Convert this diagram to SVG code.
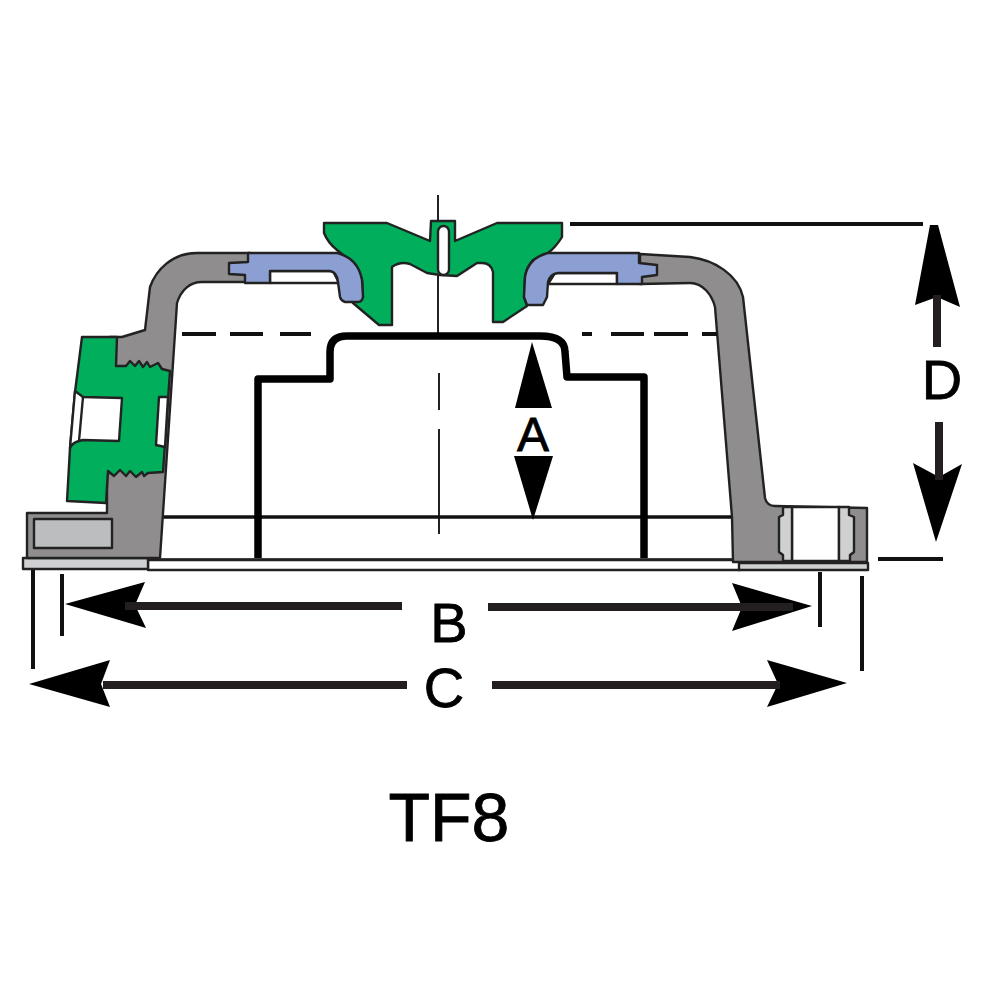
<svg xmlns="http://www.w3.org/2000/svg" width="1000" height="1000" viewBox="0 0 1000 1000">
<style>
.o{stroke:#222;stroke-width:2.4;stroke-linejoin:round}
.gray{fill:#8f8d8d}
.green{fill:#00ae5b}
.blue{fill:#8c9fd2}
.light{fill:#cfd0d2}
.white{fill:#fff}
.thick{fill:none;stroke:#000;stroke-width:7.5;stroke-linejoin:round}
.thin{fill:none;stroke:#111;stroke-width:3.5}
.center{fill:none;stroke:#222;stroke-width:2}
.dash{fill:none;stroke:#111;stroke-width:4}
.shaft{fill:none;stroke:#231f20;stroke-width:8}
.head{fill:#000}
text{font-family:"Liberation Sans",Arial,sans-serif;fill:#000;stroke:#000;stroke-width:0.8;text-anchor:middle}
.dim{font-size:56px}
</style>
<rect width="1000" height="1000" fill="#fff"/>
<g id="center-axis">
<path class="center" d="M438,195V335"/>
<path class="center" d="M439,373V410M439,429V534"/>
</g>
<g id="inner-body">
<path class="thin" d="M160,517H732"/>
<path class="thin" d="M160,560H735"/>
<path class="thick" d="M258,558V379H330V352Q330,336 347,336H540Q565,336 565,352L567,377H644V558"/>
</g>
<g id="base-plate">
<rect class="o white" x="148" y="560" width="592" height="10"/>
<rect class="o light" x="23" y="558" width="125" height="11"/>
<rect class="o light" x="739" y="563" width="129" height="7"/>
</g>
<g id="housing-left">
<path class="o gray" d="M250,253H197C172,253 156,270 150,287L145,330L122,337H110V473H107V513H27V558H160L177,303C181,290 190,282 202,282H250Z"/>
<rect class="o" fill="#bcbdbf" x="34" y="519" width="78" height="29"/>
</g>
<g id="housing-right">
<path class="o gray" d="M640,254L690,257C715,260 738,275 743,297L765,498Q767,506 775,506L867,508V562H733L732,517L715,307C712,295 703,283 690,283L640,284Z"/>
<rect class="o white" x="792" y="507" width="47" height="54"/>
<path class="o light" d="M783,507V515L779,517V552L783,555V561H792V507Z"/>
<path class="o light" d="M839,507H849V515L854,517V552L850,555V561H839Z"/>
</g>
<g id="port-fitting">
<path class="o green" d="M82,337H117L116,366H126L130,361L135,366L139,361L143,367L147,362L150,367L158,363L162,369L170,371L163,472L148,473L144,476L142,472L136,477L130,471L126,476L120,470L114,476L108,471L106,503L67,501L70,448L75,392Z"/>
<path class="o white" d="M75,391L83,397L122,398L119,441L83,440L79,441Q72,443 70,448Z"/>
<path class="o" fill="none" d="M83,397L79,441"/>
<path class="o white" d="M159,397H168L165,447L156,445Z"/>
</g>
<g id="center-valve">
<path class="o green" d="M324,223H387L430,241L431,221H455V241L497,223H562V237Q556,247 548,253L533,260Q526,268 525,277L524,297L527,306L503,322H493V272Q491,263 482,263H477L457,276L440,275L427,273L410,264Q400,261 392,267V325H379L353,303L363,297L362,280Q359,270 353,263L337,250Q328,243 324,233Z"/>
<rect class="o white" x="438" y="226" width="11" height="49" rx="5.5"/>
</g>
<g id="seal-left">
<path class="o white" d="M270,271H333L339,283H270Z"/>
<path class="o blue" d="M248,253H337Q358,258 362,280L363,297Q362,302 358,302H345Q341,301 340,297L338,282Q337,272 330,271H270V283H245V275L229,274V263L248,262Z"/>
</g>
<g id="seal-right">
<path class="o white" d="M555,273H617V284H548Z"/>
<path class="o blue" d="M639,253H548Q528,258 525,277L524,297L527,305H543L547,297L548,282Q550,274 558,273H617V284H642V277L657,275V265L639,263Z"/>
</g>
<g id="connectors">
<path class="dash" d="M182,334H216M230,334H263M280,334H311M582,334H592M611,334H644M654,334H688M702,334H717"/>
<path class="dash" d="M570,224H923M878,559H943"/>
<path class="dash" d="M33,570V669M62,574V636M820,572V627M862,576V671"/>
<path class="head" d="M65,604L145,582L135,605L146,628Z"/>
<path class="shaft" d="M125,606H402"/>
<path class="head" d="M812,606L732,583L742,607L732,631Z"/>
<path class="shaft" d="M488,607H793"/>
<path class="head" d="M29,684L110,660L101,684L110,707Z"/>
<path class="shaft" d="M103,685H407"/>
<path class="head" d="M847,683L767,660L778,684L767,707Z"/>
<path class="shaft" d="M492,685H780"/>
<path class="head" d="M930,225H938L960,307L937,297L915,305Z"/>
<path class="shaft" d="M937,295V347"/>
<path class="head" d="M936,542L913,463L939,477L962,464Z"/>
<path class="shaft" d="M939,422V480"/>
<path class="head" d="M532,342L552,408H515Z"/>
<path class="head" d="M533,520L514,456H553Z"/>
</g>
<g id="labels">
<text class="dim" x="533" y="451" style="font-size:48px">A</text>
<text class="dim" x="449" y="642">B</text>
<text class="dim" x="444" y="707">C</text>
<text class="dim" x="942" y="399">D</text>
<text x="449" y="841" style="font-size:68px">TF8</text>
</g>
</svg>
